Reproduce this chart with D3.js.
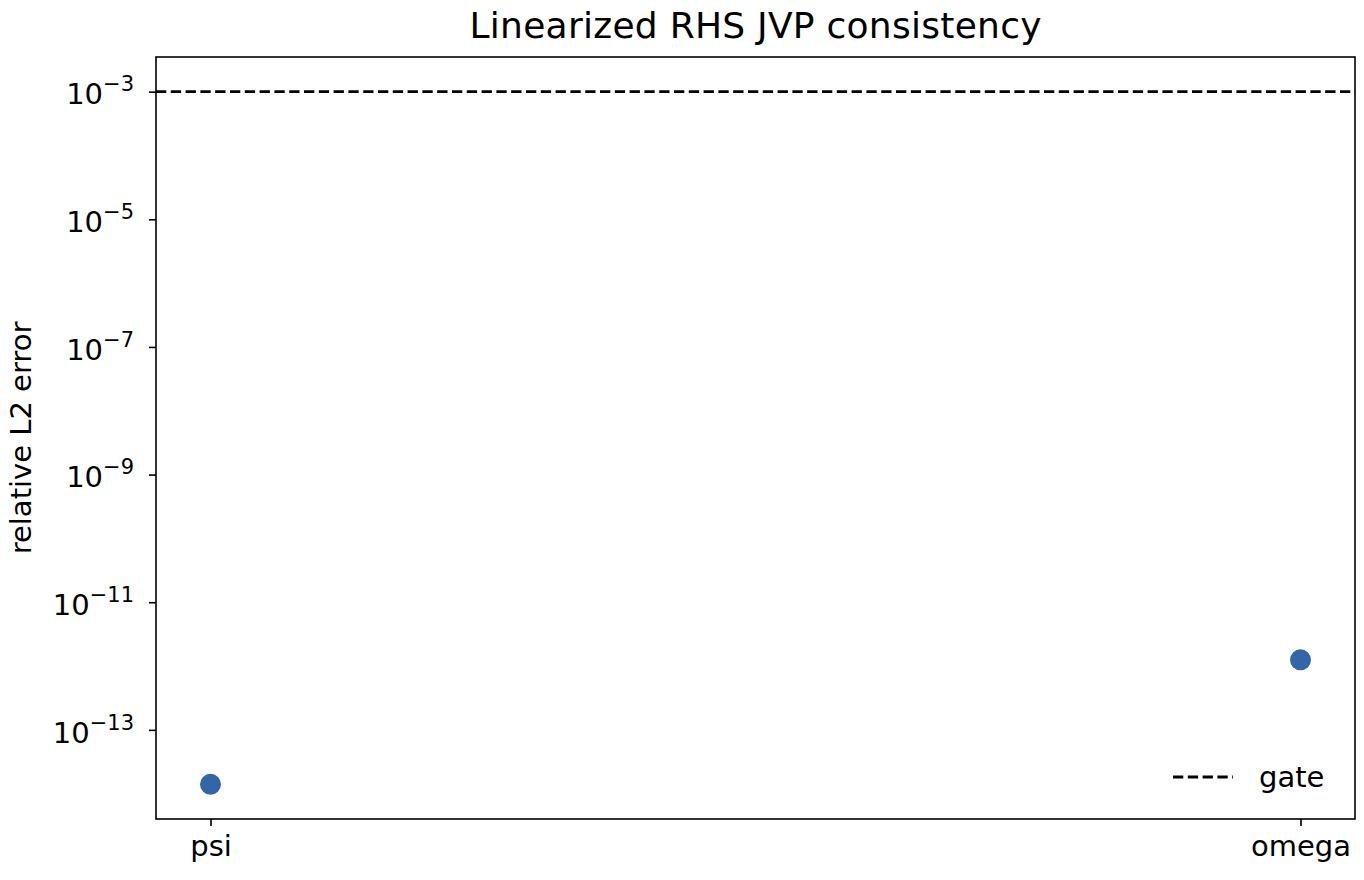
<!DOCTYPE html>
<html lang="en">
<head>
<meta charset="utf-8">
<title>Linearized RHS JVP consistency</title>
<script src="https://d3js.org/d3.v7.min.js"></script>
<style>
  body { margin: 0; background: #fff; }
  text { font-family: "DejaVu Sans", sans-serif; fill: #000; }
</style>
</head>
<body>
<script>
// data
var fields = ["psi", "omega"];
var errors = [1.4e-14, 1.25e-12];
var gate = 1e-3;
var yTicks = [1e-13, 1e-11, 1e-9, 1e-7, 1e-5, 1e-3];

var w = 1364, h = 880;
var mLeft = 156, mRight = 1355, mTop = 57, mBottom = 819;

var svg = d3.select("body").append("svg")
  .attr("width", w).attr("height", h);

// log range padded like matplotlib (5% in log space)
var lo = Math.log10(d3.min(errors.concat([gate])));
var hi = Math.log10(d3.max(errors.concat([gate])));
var pad = (hi - lo) * 0.05;

var y = d3.scaleLog()
  .domain([Math.pow(10, lo - pad), Math.pow(10, hi + pad)])
  .range([mBottom, mTop]);

var x = d3.scaleLinear()
  .domain([-0.05, fields.length - 1 + 0.05])
  .range([mLeft, mRight]);

// y axis
var yAxis = d3.axisLeft(y)
  .tickValues(yTicks)
  .tickSize(7)
  .tickPadding(7)
  .tickFormat("");
var gy = svg.append("g")
  .attr("transform", "translate(" + mLeft + ",0)")
  .call(yAxis);
gy.select(".domain").remove();
gy.selectAll(".tick line").attr("stroke", "#000").attr("stroke-width", 1.6);
gy.selectAll(".tick").each(function(d) {
  var e = Math.round(Math.log10(d));
  var t = d3.select(this).append("text")
    .attr("x", -22).attr("dy", "0.42em")
    .attr("text-anchor", "end")
    .style("font-size", "29px");
  t.append("tspan").text("10");
  t.append("tspan")
    .attr("dy", "-0.62em")
    .style("font-size", "21px")
    .text("\u2212" + Math.abs(e));
});

// x axis
var xAxis = d3.axisBottom(x)
  .tickValues(d3.range(fields.length))
  .tickSize(7)
  .tickPadding(9)
  .tickFormat(function(i) { return fields[i]; });
var gx = svg.append("g")
  .attr("transform", "translate(0," + mBottom + ")")
  .call(xAxis);
gx.select(".domain").remove();
gx.selectAll(".tick line").attr("stroke", "#000").attr("stroke-width", 1.6);
gx.selectAll(".tick text")
  .attr("fill", "#000")
  .style("font-family", "DejaVu Sans, sans-serif")
  .style("font-size", "29px");

// gate line
svg.append("line")
  .attr("x1", mLeft).attr("x2", mRight)
  .attr("y1", y(gate)).attr("y2", y(gate))
  .attr("stroke", "#000")
  .attr("stroke-width", 2.8)
  .attr("stroke-dasharray", "10.3,4.5");

// points
svg.selectAll("circle.pt")
  .data(errors)
  .enter()
  .append("circle")
  .attr("class", "pt")
  .attr("cx", function(d, i) { return x(i); })
  .attr("cy", function(d) { return y(d); })
  .attr("r", 10.5)
  .attr("fill", "#3465a8");

// frame
svg.append("rect")
  .attr("x", mLeft).attr("y", mTop)
  .attr("width", mRight - mLeft).attr("height", mBottom - mTop)
  .attr("fill", "none")
  .attr("stroke", "#000")
  .attr("stroke-width", 1.6);

// title
svg.append("text")
  .attr("x", (mLeft + mRight) / 2)
  .attr("y", 38)
  .attr("text-anchor", "middle")
  .style("font-size", "36px")
  .attr("textLength", 572)
  .text("Linearized RHS JVP consistency");

// y label
svg.append("text")
  .attr("transform", "translate(31," + ((mTop + mBottom) / 2) + ") rotate(-90)")
  .attr("text-anchor", "middle")
  .style("font-size", "29px")
  .text("relative L2 error");

// legend
var lg = svg.append("g").attr("transform", "translate(1173,777)");
lg.append("line")
  .attr("x1", 0).attr("x2", 60)
  .attr("stroke", "#000")
  .attr("stroke-width", 2.8)
  .attr("stroke-dasharray", "10.3,4.5");
lg.append("text")
  .attr("x", 86).attr("dy", "0.35em")
  .style("font-size", "29px")
  .text("gate");
</script>
</body>
</html>
